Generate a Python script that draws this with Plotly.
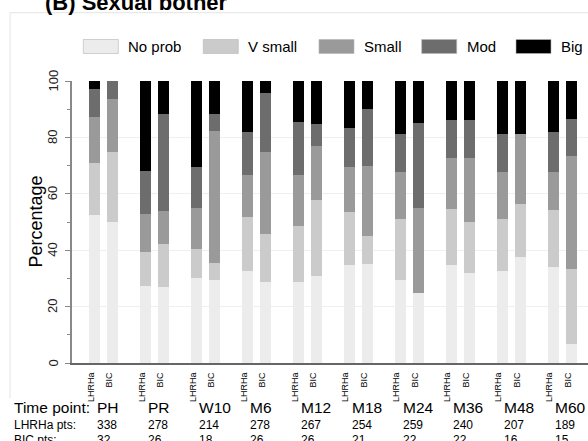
import plotly.graph_objects as go

# ---------------- data ----------------
time_points = ["PH", "PR", "W10", "M6", "M12", "M18", "M24", "M36", "M48", "M60"]
arms = ["LHRHa", "BIC"]
lhrha_pts = [338, 278, 214, 278, 267, 254, 259, 240, 207, 189]
bic_pts = [32, 26, 18, 26, 26, 21, 22, 22, 16, 15]
categories = ["No prob", "V small", "Small", "Mod", "Big"]

lhrha_no_prob = [52.4, 27.2, 30.0, 32.7, 28.7, 34.7, 29.5, 34.8, 32.5, 34.1]
lhrha_v_small = [18.7, 12.0, 10.6, 18.9, 19.9, 18.8, 21.7, 19.7, 18.6, 20.3]
lhrha_small = [16.0, 13.7, 14.4, 14.9, 18.2, 16.0, 16.5, 18.2, 16.8, 13.3]
lhrha_mod = [9.9, 15.3, 14.4, 15.3, 18.6, 14.0, 13.6, 13.4, 13.3, 14.1]
lhrha_big = [3.0, 31.8, 30.6, 18.2, 14.6, 16.5, 18.7, 13.9, 18.8, 18.2]

bic_no_prob = [50.0, 26.9, 29.4, 28.9, 30.8, 35.0, 25.0, 31.8, 37.5, 6.7]
bic_v_small = [25.0, 15.4, 5.9, 16.9, 26.9, 10.0, 0.0, 18.2, 18.75, 26.7]
bic_small = [18.75, 11.5, 47.1, 29.1, 19.2, 25.0, 30.0, 22.7, 25.0, 40.0]
bic_mod = [6.25, 34.6, 5.9, 20.7, 7.7, 20.0, 30.0, 13.6, 0.0, 13.3]
bic_big = [0.0, 11.5, 11.8, 4.4, 15.4, 10.0, 15.0, 13.6, 18.75, 13.3]

# ---------------- styling ----------------
colors = ["#ececec", "#cbcbcb", "#9a9a9a", "#6d6d6d", "#000000"]
FONT = "Liberation Sans, Arial, sans-serif"
W, H = 588, 441
L, R, T, B = 72, 588, 81, 363
GROUP_STEP = 2.8  # spacing between time-point groups (in bar units)


def px(x):
    return (x - L) / (R - L)


def py(y):
    return (B - y) / (B - T)


lhrha_series = [lhrha_no_prob, lhrha_v_small, lhrha_small, lhrha_mod, lhrha_big]
bic_series = [bic_no_prob, bic_v_small, bic_small, bic_mod, bic_big]

x_pos = []
tick_text = []
for g in range(len(time_points)):
    x_pos += [g * GROUP_STEP, g * GROUP_STEP + 1]
    tick_text += arms

fig = go.Figure()
for k, cat in enumerate(categories):
    yvals = []
    for g in range(len(time_points)):
        yvals += [lhrha_series[k][g], bic_series[k][g]]
    fig.add_trace(go.Bar(
        x=x_pos, y=yvals, name=cat, width=0.6,
        marker=dict(color=colors[k], line=dict(width=0)),
        showlegend=False,
    ))

annotations = []
shapes = []

# title (partly cropped at the top)
annotations.append(dict(
    text="<b>(B) Sexual bother</b>", x=px(43), y=py(17), xref="paper", yref="paper",
    xanchor="left", yanchor="bottom", showarrow=False,
    font=dict(size=22, color="#000", family=FONT),
))

# y-axis title
annotations.append(dict(
    text="Percentage", x=px(35.5), y=0.5, xref="paper", yref="paper",
    xanchor="center", yanchor="middle", textangle=-90, showarrow=False,
    font=dict(size=18, color="#000", family=FONT),
))

# y tick labels (rotated), placed on the axis scale
y_ticks = [0, 20, 40, 60, 80, 100]
for v in y_ticks:
    annotations.append(dict(
        text=str(v), x=px(52.5), y=v, xref="paper", yref="y",
        xanchor="center", yanchor="middle", textangle=-90, showarrow=False,
        font=dict(size=13, color="#222", family=FONT),
    ))

# outer graph-region frame
shapes.append(dict(type="line", xref="paper", yref="paper",
                   x0=px(10), x1=px(600), y0=py(12.7), y1=py(12.7),
                   line=dict(color="#e4e4e4", width=1)))
shapes.append(dict(type="line", xref="paper", yref="paper",
                   x0=px(10), x1=px(10), y0=py(12.7), y1=py(398),
                   line=dict(color="#e4e4e4", width=1)))

# custom legend
legend_swatch_x = [83.3, 203.3, 319, 421.7, 516]
for k, cat in enumerate(categories):
    x0 = legend_swatch_x[k]
    shapes.append(dict(type="rect", xref="paper", yref="paper",
                       x0=px(x0), x1=px(x0 + 35), y0=py(53.5), y1=py(39.5),
                       fillcolor=colors[k], line=dict(color="#b5b5b5", width=0.6)))
    annotations.append(dict(
        text=cat, x=px(x0 + 43), y=py(46.5), xref="paper", yref="paper",
        xanchor="left", yanchor="middle", showarrow=False,
        font=dict(size=15, color="#000", family=FONT),
    ))

# bottom table
row_y = [407.5, 424.5, 440]
row_labels = ["Time point:", "LHRHa pts:", "BIC pts:"]
row_sizes = [15.5, 12, 12]
for r_i in range(3):
    annotations.append(dict(
        text=row_labels[r_i], x=px(12), y=py(row_y[r_i]), xref="paper", yref="paper",
        xanchor="left", yanchor="middle", showarrow=False,
        font=dict(size=row_sizes[r_i], color="#000", family=FONT),
    ))
row_values = [time_points, [str(v) for v in lhrha_pts], [str(v) for v in bic_pts]]
for r_i in range(3):
    for g in range(len(time_points)):
        annotations.append(dict(
            text=row_values[r_i][g], x=g * GROUP_STEP, xshift=0, y=py(row_y[r_i]),
            xref="x", yref="paper", xanchor="left", yanchor="middle", showarrow=False,
            font=dict(size=row_sizes[r_i], color="#000", family=FONT),
        ))

fig.update_layout(
    width=W, height=H,
    margin=dict(l=L, r=W - R, t=T, b=H - B, autoexpand=False),
    barmode="stack", bargap=0,
    paper_bgcolor="white", plot_bgcolor="white",
    font=dict(family=FONT, color="#000"),
    annotations=annotations, shapes=shapes,
    showlegend=False,
)
fig.update_xaxes(
    range=[-1.25, -1.25 + (R - L) / 18.2],
    tickmode="array", tickvals=x_pos, ticktext=tick_text,
    tickangle=-90, tickfont=dict(size=9, color="#000"),
    ticks="", ticklabelshift=-4, ticklabelstandoff=4,
    showline=True, linecolor="#666", linewidth=2,
    showgrid=False, zeroline=False, automargin=False,
)
fig.update_yaxes(
    range=[0, 100], tickmode="array", tickvals=y_ticks, showticklabels=False,
    ticks="outside", ticklen=5, tickcolor="#888", tickwidth=1,
    minor=dict(tickmode="array", tickvals=[10, 30, 50, 70, 90], ticks="outside",
               ticklen=3, tickcolor="#888", showgrid=False),
    showline=True, linecolor="#888", linewidth=1.5,
    showgrid=True, gridcolor="#efefef", gridwidth=1, zeroline=False,
    automargin=False,
)

fig.write_html("out.html")
